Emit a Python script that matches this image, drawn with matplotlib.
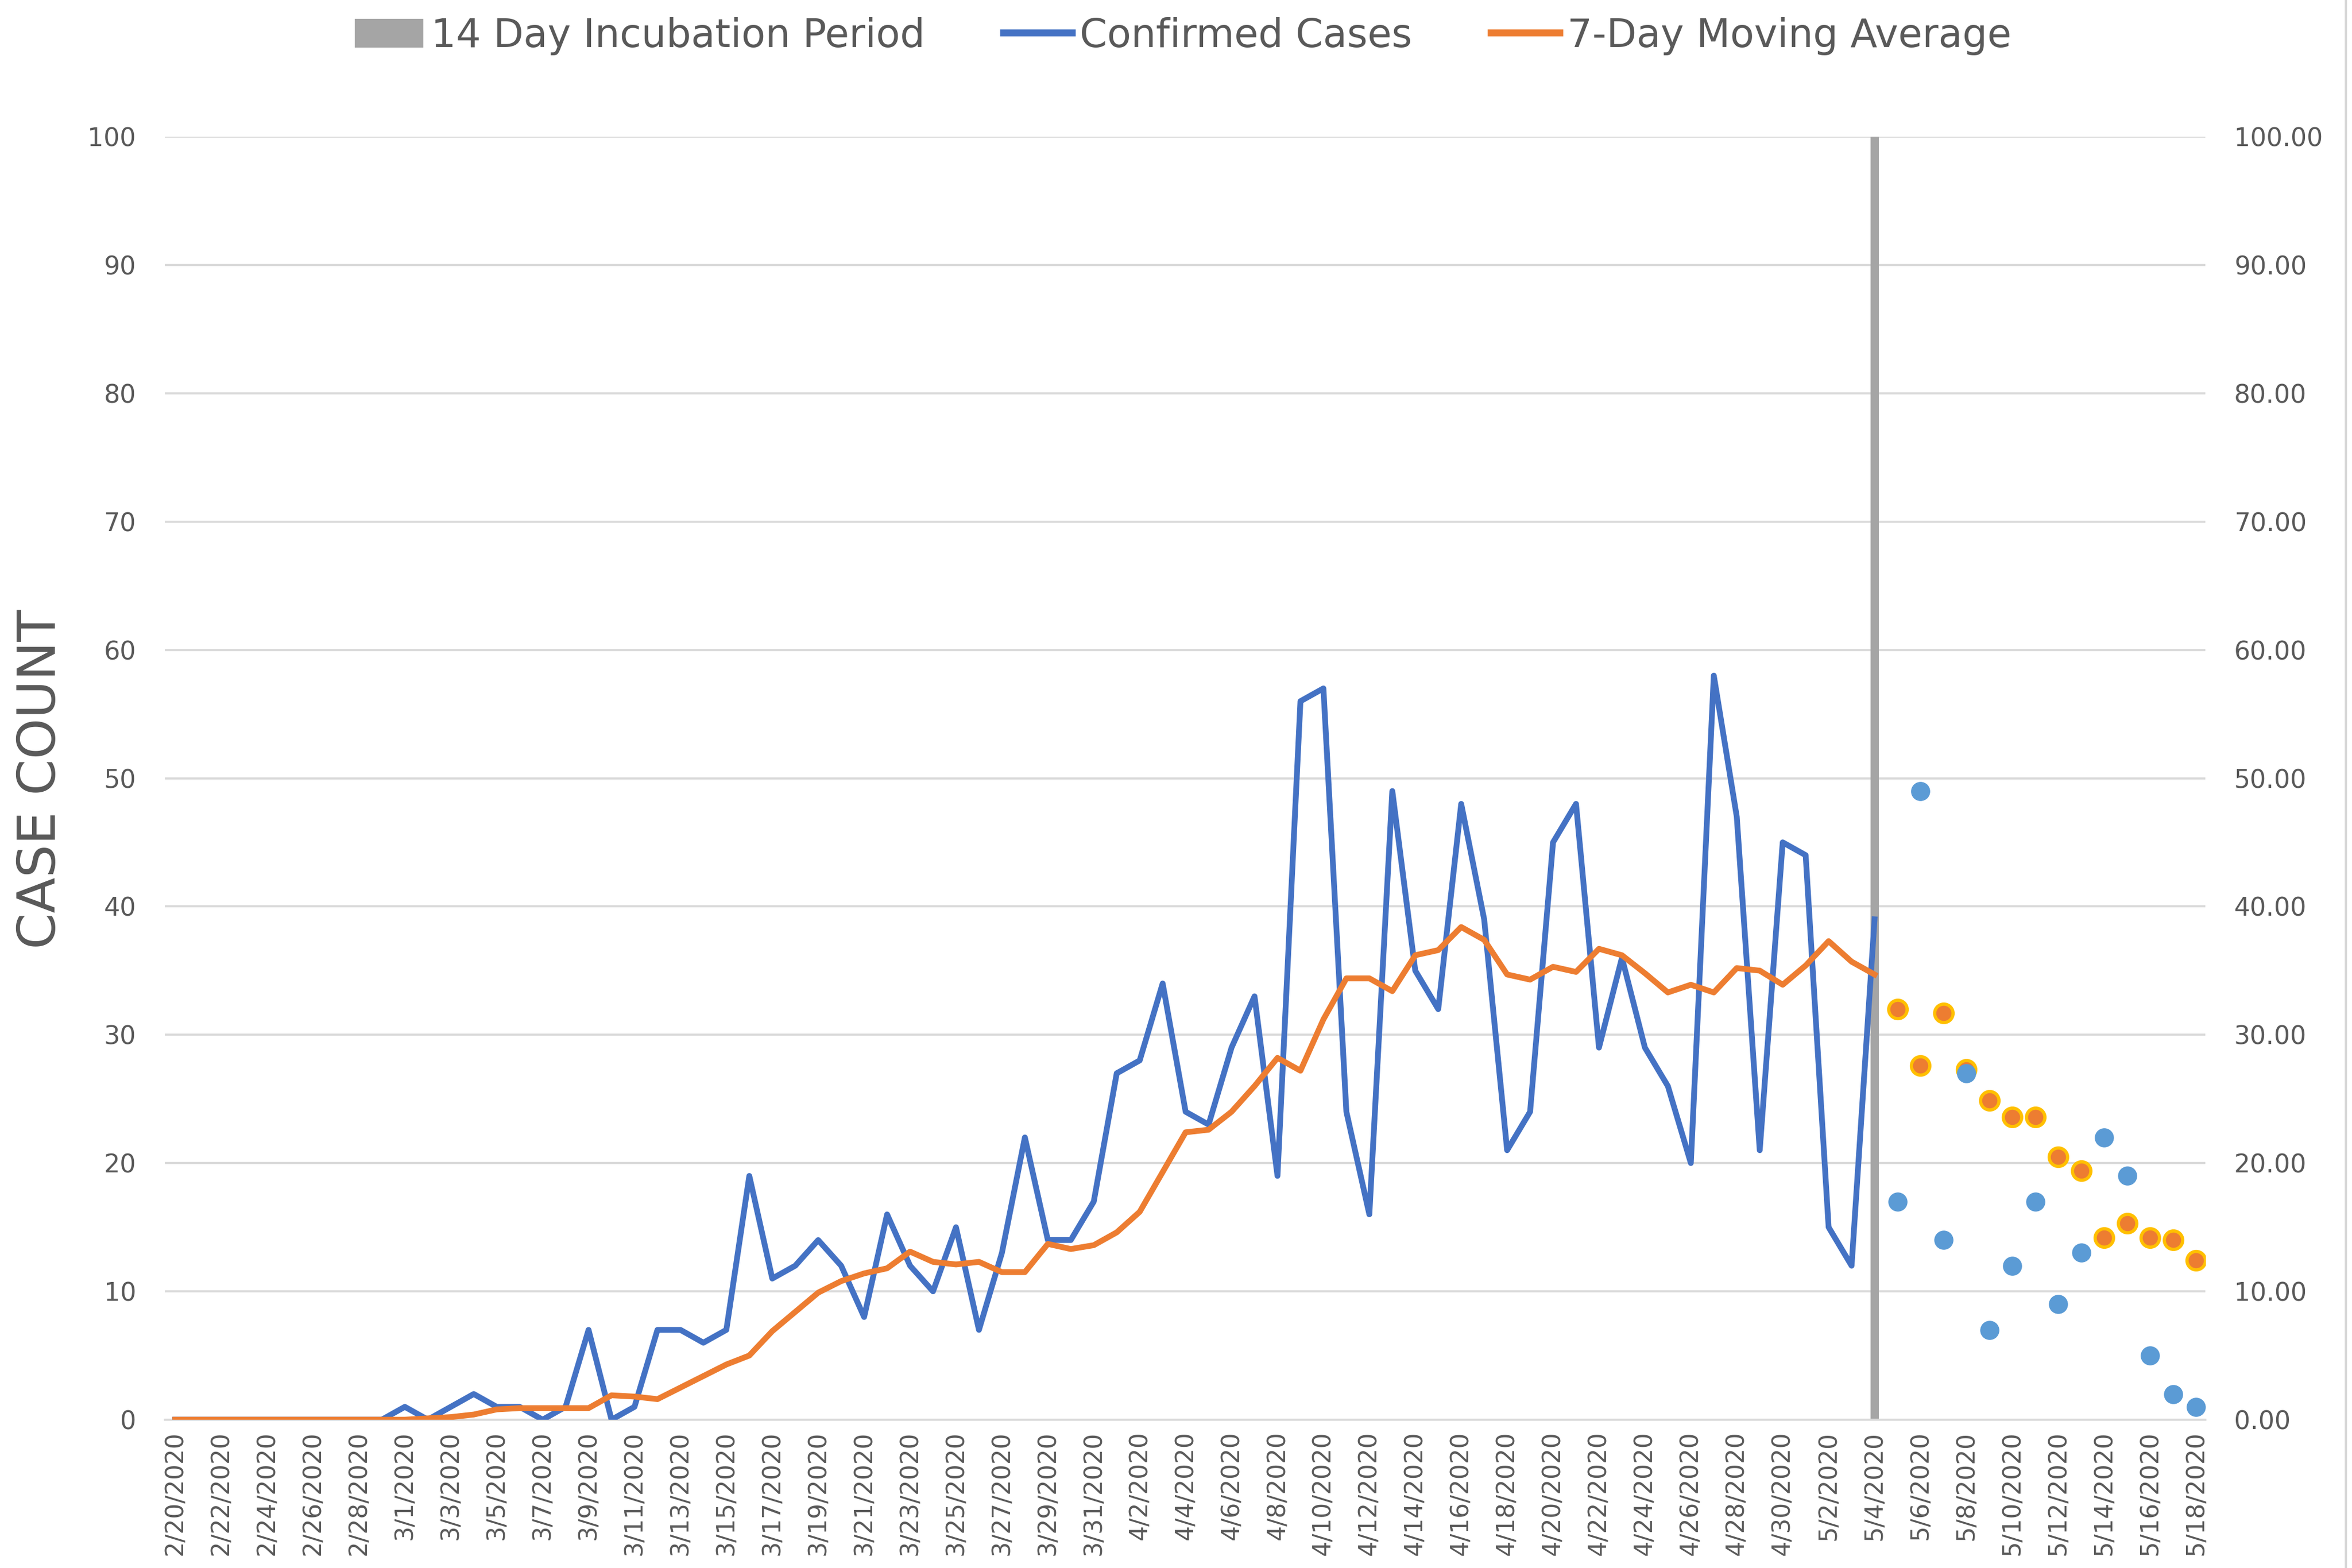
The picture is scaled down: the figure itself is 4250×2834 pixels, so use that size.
import matplotlib
matplotlib.use("Agg")
import matplotlib.pyplot as plt
import matplotlib.ticker as mticker
from matplotlib.patches import Patch
from matplotlib.lines import Line2D
import pandas as pd

# ---------------- data ----------------
dates = pd.date_range("2020-02-20", "2020-05-18", freq="D")
date_labels = [f"{d.month}/{d.day}/{d.year}" for d in dates]

# Confirmed cases 2/20 .. 5/4 (line)
confirmed = [0, 0, 0, 0, 0, 0, 0, 0, 0, 0,
             1, 0, 1, 2, 1, 1, 0, 1, 7, 0,
             1, 7, 7, 6, 7, 19, 11, 12, 14, 12,
             8, 16, 12, 10, 15, 7, 13, 22, 14, 14,
             17, 27, 28, 34, 24, 23, 29, 33, 19, 56,
             57, 24, 16, 49, 35, 32, 48, 39, 21, 24,
             45, 48, 29, 36, 29, 26, 20, 58, 47, 21,
             45, 44, 15, 12, 39]

# 7-day moving average 2/20 .. 5/4 (line)
moving_avg = [0, 0, 0, 0, 0, 0, 0, 0, 0, 0,
              0, 0.1, 0.2, 0.4, 0.8, 0.9, 0.9, 0.9, 0.9, 1.9,
              1.8, 1.6, 2.5, 3.4, 4.3, 5.0, 6.9, 8.4, 9.9, 10.8,
              11.4, 11.8, 13.1, 12.3, 12.1, 12.3, 11.5, 11.5, 13.7, 13.3,
              13.6, 14.6, 16.2, 19.3, 22.4, 22.6, 24.0, 26.0, 28.2, 27.2,
              31.2, 34.4, 34.4, 33.4, 36.2, 36.6, 38.4, 37.4, 34.7, 34.3,
              35.3, 34.9, 36.7, 36.2, 34.8, 33.3, 33.9, 33.3, 35.2, 35.0,
              33.9, 35.4, 37.3, 35.7, 34.7]

# 5/5 .. 5/18 (points)
confirmed_recent = [17, 49, 14, 27, 7, 12, 17, 9, 13, 22, 19, 5, 2, 1]
moving_avg_recent = [32.0, 27.6, 31.7, 27.3, 24.9, 23.6, 23.6, 20.5, 19.4, 14.2,
                     15.3, 14.2, 14.0, 12.4]

# 14 day incubation period marker
incubation_date = ["5/4/2020"]
incubation_value = [100]

y_ticks = [0, 10, 20, 30, 40, 50, 60, 70, 80, 90, 100]

# ---------------- styling ----------------
TXT = "#595959"
GRID = "#D9D9D9"
BLUE = "#4472C4"
ORANGE = "#ED7D31"
DOT_BLUE = "#5B9BD5"
GOLD = "#FFC000"
GRAY = "#A5A5A5"

plt.rcParams["font.family"] = ["DejaVu Sans"]

fig = plt.figure(figsize=(4250 / 300, 2834 / 300), dpi=300)
ax = fig.add_axes([0.0701, 0.0946, 0.8675, 0.8182])

x_all = list(range(len(date_labels)))
n_line = len(confirmed)
x_line = x_all[:n_line]
x_recent = x_all[n_line:n_line + len(confirmed_recent)]
x_inc = [date_labels.index(d) for d in incubation_date]

ax.bar(x_inc, incubation_value, width=0.37, color=GRAY, zorder=2)
ax.plot(x_line, confirmed, color=BLUE, lw=2.5, zorder=3, solid_joinstyle="round")
ax.plot(x_line, moving_avg, color=ORANGE, lw=2.5, zorder=4, solid_joinstyle="round")
ax.plot(x_recent, moving_avg_recent, ls="none", marker="o", ms=8,
        mfc=ORANGE, mec=GOLD, mew=1.4, zorder=5)
ax.plot(x_recent, confirmed_recent, ls="none", marker="o", ms=8.3,
        mfc=DOT_BLUE, mec=DOT_BLUE, mew=0, zorder=6)

ax.set_xlim(-0.45, 88.4)
ax.set_ylim(0, 100)
ax.set_yticks(y_ticks)
ax.yaxis.grid(True, color=GRID, lw=0.9, zorder=0)
ax.set_axisbelow(True)

ax.set_xticks(x_all[::2])
ax.set_xticklabels(date_labels[::2], rotation=90, fontsize=10.5, color=TXT)
ax.tick_params(axis="x", length=0, pad=5)
ax.tick_params(axis="y", length=0, pad=12.5, labelsize=11, labelcolor=TXT)
for s in ["top", "right", "left"]:
    ax.spines[s].set_visible(False)
ax.spines["bottom"].set_color(GRID)
ax.spines["bottom"].set_linewidth(0.9)

ax2 = ax.twinx()
ax2.set_ylim(0, 100)
ax2.set_yticks(y_ticks)
ax2.yaxis.set_major_formatter(mticker.FormatStrFormatter("%.2f"))
ax2.tick_params(axis="y", length=0, pad=12.5, labelsize=11, labelcolor=TXT)
for s in ["top", "right", "left", "bottom"]:
    ax2.spines[s].set_visible(False)

fig.text(0.0175, 0.503, "CASE COUNT", rotation=90, ha="center", va="center",
         fontsize=22.5, color=TXT)

handles = [
    Patch(facecolor=GRAY, edgecolor="none"),
    Line2D([0], [0], color=BLUE, lw=3),
    Line2D([0], [0], color=ORANGE, lw=3),
]
labels = ["14 Day Incubation Period", "Confirmed Cases", "7-Day Moving Average"]
fig.legend(handles, labels, loc="center", bbox_to_anchor=(0.503, 0.977), ncol=3,
           frameon=False, fontsize=17, labelcolor=TXT, handlelength=1.75,
           handleheight=0.75, handletextpad=0.2, columnspacing=2.0)

# thin chart-area border on the right edge
fig.add_artist(Line2D([0.9975, 0.9975], [0, 1], transform=fig.transFigure,
                      color=GRID, lw=1.0))

fig.savefig("out.png", dpi=300)
